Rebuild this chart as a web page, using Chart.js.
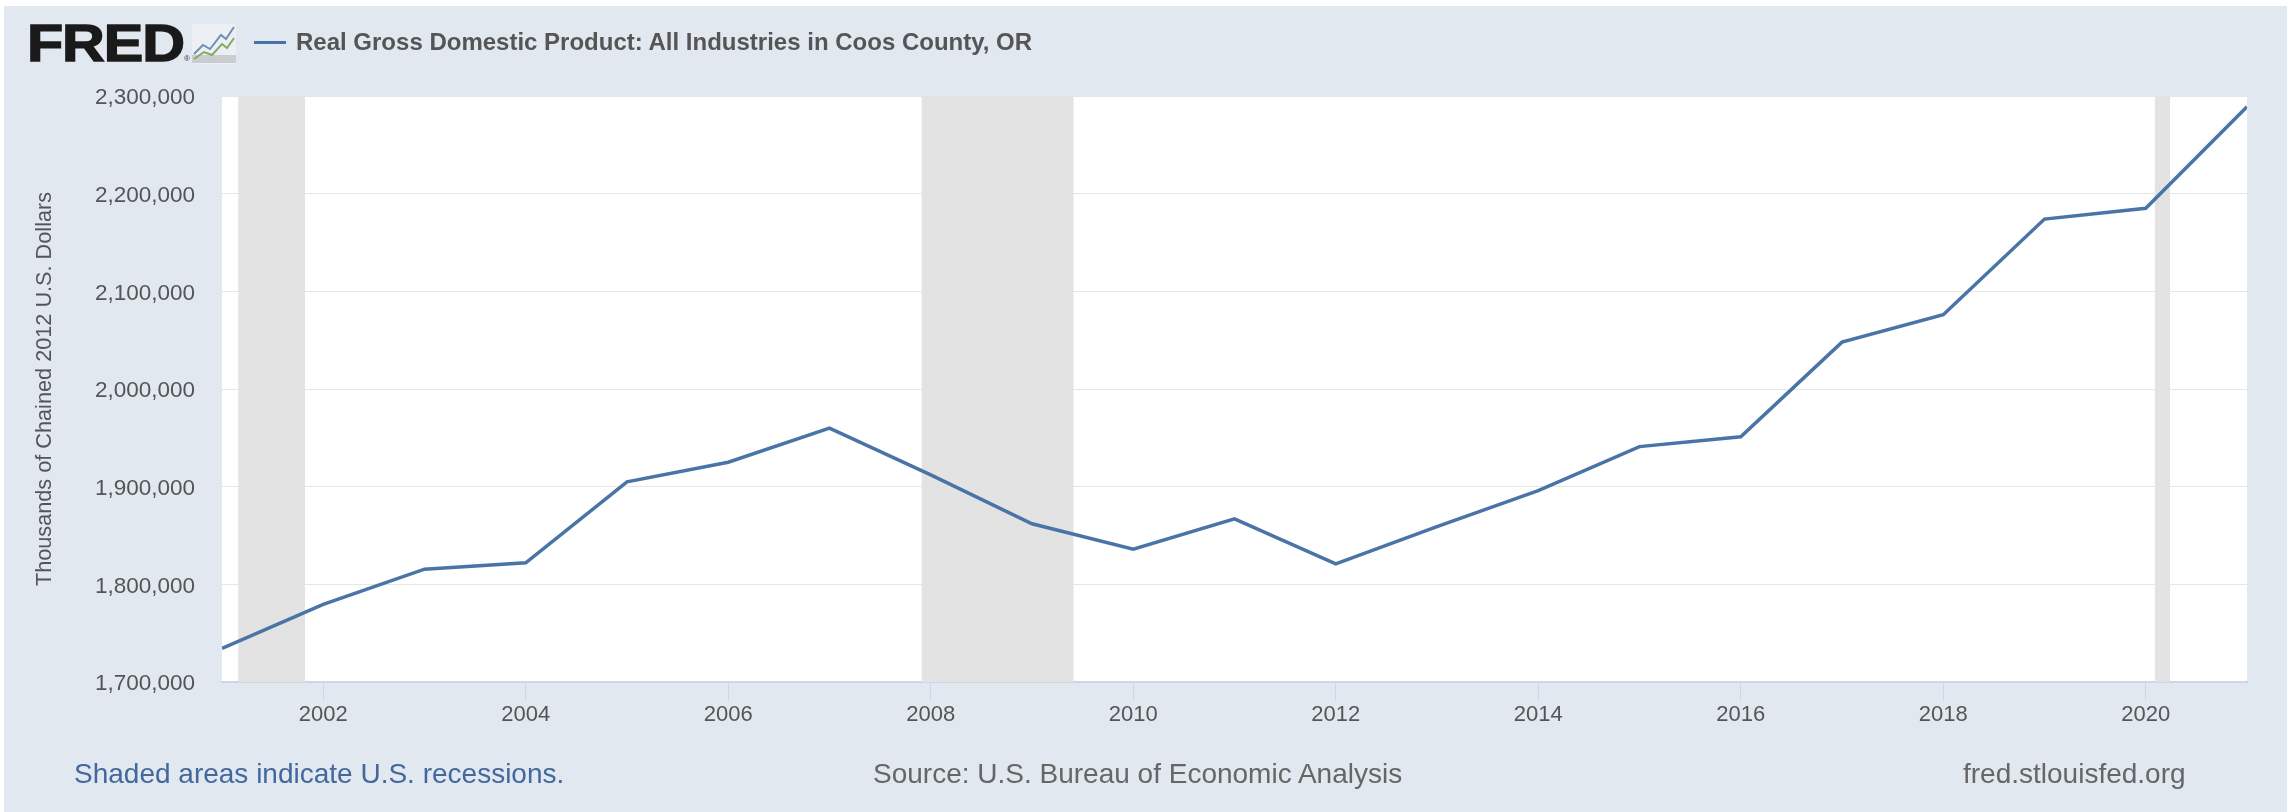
<!DOCTYPE html>
<html><head><meta charset="utf-8">
<script src="https://cdn.jsdelivr.net/npm/chart.js@4"></script>
<style>
html,body{margin:0;padding:0;background:#fff;width:2295px;height:812px;overflow:hidden;font-family:"Liberation Sans",Arial,sans-serif}
#panel{position:absolute;left:4px;top:6px;width:2283px;height:806px;background:#e1e8f0}
#wrap{position:absolute;left:0;top:0;width:2295px;height:812px}
.t{position:absolute;white-space:nowrap;line-height:1}
#logo{left:27px;top:17px;font-size:52px;font-weight:700;color:#1a1a1a;-webkit-text-stroke:1.4px #1a1a1a;transform-origin:0 0;transform:scaleX(1.14);letter-spacing:-1px}
#reg{left:184px;top:55px;font-size:8px;color:#333}
#icon{position:absolute;left:192px;top:24px}
#swatch{position:absolute;left:254px;top:41px;width:32px;height:3px;background:#4572a7}
#title{left:296px;top:30px;font-size:24px;font-weight:700;color:#555}
#f1{left:74px;top:760px;font-size:28px;color:#43689e}
#f2{left:873px;top:760px;font-size:28px;color:#666}
#f3{left:1963px;top:760px;font-size:28px;color:#666}
</style></head>
<body>
<div id="panel"></div>
<div id="wrap"><canvas id="c" width="2295" height="812"></canvas></div>
<div class="t" id="logo">FRED</div><div class="t" id="reg">®</div>
<svg id="icon" width="44" height="40" viewBox="0 0 44 40">
<rect x="0" y="0" width="44" height="40" fill="#f1f3f5" opacity=".7"/>
<rect x="0" y="31" width="44" height="8" fill="#c9cdd0"/>
<polyline points="2,30 11,21 18,25 29,11 34,15 42,3" fill="none" stroke="#6f8fb5" stroke-width="2"/>
<polyline points="2,35 12,28 20,31 30,20 35,24 42,14" fill="none" stroke="#87a866" stroke-width="2"/>
</svg>
<div id="swatch"></div>
<div class="t" id="title">Real Gross Domestic Product: All Industries in Coos County, OR</div>
<div class="t" id="f1">Shaded areas indicate U.S. recessions.</div>
<div class="t" id="f2">Source: U.S. Bureau of Economic Analysis</div>
<div class="t" id="f3">fred.stlouisfed.org</div>
<script>
const years = [2001,2002,2003,2004,2005,2006,2007,2008,2009,2010,2011,2012,2013,2014,2015,2016,2017,2018,2019,2020,2021];
const gdp = [1734500,1779500,1815500,1822000,1905000,1925000,1960000,1912000,1862000,1836000,1867000,1821000,1859000,1896000,1941000,1951000,2048000,2076000,2174000,2185000,2289000];
const recessionStart = [2001.16,2007.91,2020.09];
const recessionEnd = [2001.82,2009.41,2020.24];
const yAxisTitle = "Thousands of Chained 2012 U.S. Dollars";
const seriesName = "Real Gross Domestic Product: All Industries in Coos County, OR";

const bands = {
  id:'bands',
  beforeDraw(c){const a=c.chartArea,x=c.ctx;x.save();x.fillStyle='#fff';x.fillRect(a.left,a.top,a.width,a.height);x.restore();},
  beforeDatasetsDraw(c){
    const a=c.chartArea,x=c.ctx,s=c.scales.x;
    x.save();x.fillStyle='#e3e3e3';
    recessionStart.forEach((r,i)=>{
      const l=s.getPixelForValue(r),e=s.getPixelForValue(recessionEnd[i]);
      x.fillRect(l,a.top,e-l,a.height);
    });
    x.restore();
  }
};
new Chart(document.getElementById('c'),{
  type:'line',
  data:{datasets:[{label:seriesName,data:years.map((y,i)=>({x:y,y:gdp[i]})),borderColor:'#4a74a6',borderWidth:3.5,pointRadius:0,tension:0,borderJoinStyle:'miter'}]},
  plugins:[bands],
  options:{
    responsive:false,animation:false,
    layout:{padding:{left:0,right:48,top:96,bottom:812-682-60}},
    plugins:{legend:{display:false},tooltip:{enabled:false}},
    scales:{
      x:{type:'linear',min:2001,max:2021,
        afterFit(s){s.height=60;},
        afterBuildTicks(s){s.ticks=years.filter(y=>y%2===0).map(v=>({value:v}));},
        grid:{display:true,drawTicks:true,drawOnChartArea:false,tickLength:18,tickColor:'#ccd6e6',lineWidth:1},
        border:{display:true,color:'#ccd6e6',width:2},
        ticks:{display:true,autoSkip:false,maxRotation:0,padding:2,color:'#555',font:{family:'"Liberation Sans"',size:22},callback:v=>String(v)}
      },
      y:{min:1700000,max:2300000,
        afterFit(s){s.width=222;},
        grid:{color:'#e6e6e6',lineWidth:1,drawTicks:false},
        border:{display:false},
        title:{display:true,text:yAxisTitle,color:'#555',font:{family:'"Liberation Sans"',size:21.7},padding:{top:32,bottom:0}},
        ticks:{stepSize:100000,padding:27,labelOffset:2,color:'#555',font:{family:'"Liberation Sans"',size:22.5},callback:v=>v.toLocaleString('en-US')}
      }
    }
  },
});
</script>
</body></html>
